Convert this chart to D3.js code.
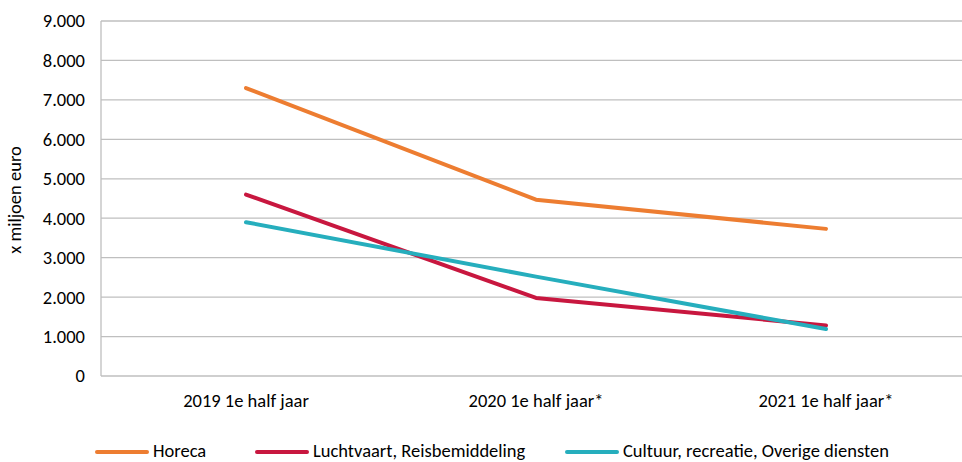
<!DOCTYPE html>
<html><head><meta charset="utf-8">
<script src="https://cdn.jsdelivr.net/npm/d3@7"></script>
<style>
body{margin:0;background:#fff;}
svg text{font-family:Carlito,"Liberation Sans Narrow","Open Sans",sans-serif;fill:#000;}
</style></head>
<body><svg id="c" width="962" height="462"></svg>
<script>
const categories = ["2019 1e half jaar","2020 1e half jaar*","2021 1e half jaar*"];
const seriesNames = ["Horeca","Luchtvaart, Reisbemiddeling","Cultuur, recreatie, Overige diensten"];
const horeca = [7300, 4470, 3730];
const luchtvaart = [4600, 1980, 1280];
const cultuur = [3900, 2520, 1190];
const yTicks = [0,1000,2000,3000,4000,5000,6000,7000,8000,9000];
const colors = ["#ED7D31","#C8173F","#26AEBD"];
const fs = 18.5;

const svg = d3.select("#c");
const x = d3.scalePoint().domain(categories).range([246, 826]);
const y = d3.scaleLinear().domain([0,9000]).range([376, 21]);
const fmt = v => d3.format(",")(v).replace(/,/g,".");

svg.append("g").selectAll("line").data(yTicks).join("line")
  .attr("x1",101).attr("x2",962).attr("y1",d=>y(d)).attr("y2",d=>y(d))
  .attr("stroke","#BFBFBF").attr("stroke-width",1.3);
svg.append("line").attr("x1",101).attr("x2",101).attr("y1",y(9000)).attr("y2",y(0))
  .attr("stroke","#BFBFBF").attr("stroke-width",1.3);

svg.append("g").selectAll("text").data(yTicks).join("text")
  .attr("x",85).attr("y",d=>y(d)).attr("dy","0.35em").attr("text-anchor","end")
  .attr("font-size",fs).text(fmt);

svg.append("g").selectAll("text").data(categories).join("text")
  .attr("x",d=>x(d)).attr("y",407).attr("text-anchor","middle")
  .attr("font-size",fs).text(d=>d);

svg.append("text").attr("transform","translate(21,200) rotate(-90)")
  .attr("text-anchor","middle").attr("font-size",fs).text("x miljoen euro");

const data = [horeca, luchtvaart, cultuur];
const line = d3.line().x((d,i)=>x(categories[i])).y(d=>y(d));
svg.append("g").selectAll("path").data(data).join("path")
  .attr("d",line).attr("fill","none").attr("stroke",(d,i)=>colors[i])
  .attr("stroke-width",4).attr("stroke-linecap","round").attr("stroke-linejoin","round");

const legX = [97, 257, 567];
const lg = svg.append("g").selectAll("g").data(seriesNames).join("g")
  .attr("transform",(d,i)=>`translate(${legX[i]},452)`);
lg.append("line").attr("x1",0).attr("x2",50).attr("y1",0).attr("y2",0)
  .attr("stroke",(d,i)=>colors[i]).attr("stroke-width",4).attr("stroke-linecap","round");
lg.append("text").attr("x",56).attr("y",5).attr("font-size",fs).text(d=>d);
</script></body></html>
